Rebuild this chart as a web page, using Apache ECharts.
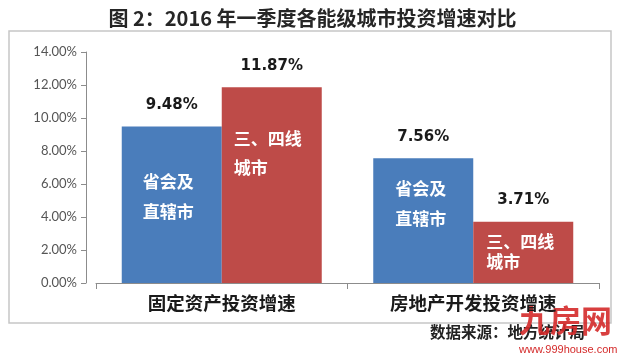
<!DOCTYPE html>
<html>
<head>
<meta charset="utf-8">
<script src="https://cdn.jsdelivr.net/npm/echarts@6/dist/echarts.min.js"></script>
<style>
html,body{margin:0;padding:0;background:#fff;}
#c{width:625px;height:361px;}
</style>
</head>
<body>
<div id="c"></div>
<script>
const titleText = '图 2：2016 年一季度各能级城市投资增速对比';
const categories = ['固定资产投资增速', '房地产开发投资增速'];
const seriesNames = ['省会及直辖市', '三、四线城市'];
const provincialValues = [9.48, 7.56];
const tier34Values = [11.87, 3.71];
const innerLabels = ['省会及\n直辖市', '三、四线\n城市'];
const yTicks = [0, 2, 4, 6, 8, 10, 12, 14];
const sourceText = '数据来源：地方统计局';

const blue = '#4a7dbb';
const red = '#be4b48';
const yMin = yTicks[0], yMax = yTicks[yTicks.length - 1], yStep = yTicks[1] - yTicks[0];

// label placement inside each bar (style only)
const blueLabelPos = [[21, 40, 30], [22, 15, 30]];
const redLabelPos = [[12, 37, 29], [13, 10, 20]];

const innerStyle = {
  show: true, color: '#fff', fontWeight: 'bold', fontSize: 17,
  fontFamily: 'Noto Sans CJK SC', align: 'left', verticalAlign: 'top'
};

const chart = echarts.init(document.getElementById('c'), null, {renderer: 'canvas'});
chart.setOption({
  animation: false,
  backgroundColor: '#fff',
  title: {
    text: titleText, left: 'center', top: 3,
    textStyle: {fontSize: 20, fontWeight: 'bold', color: '#262626', fontFamily: 'Noto Sans CJK SC'}
  },
  graphic: [
    {type: 'rect', shape: {x: 9, y: 31, width: 602, height: 292},
     style: {fill: 'none', stroke: '#c6c6c6', lineWidth: 1.5}, z: -1},
    {type: 'text', left: 430, top: 324,
     style: {text: sourceText, fontSize: 15.5, fontWeight: 'bold', fill: '#222', fontFamily: 'Noto Sans CJK SC'}},
    {type: 'text', left: 519, top: 305,
     style: {text: '九房网', fontSize: 31, fontWeight: 'bold', fill: '#d42a2a', fontFamily: 'Noto Sans CJK SC', opacity: 0.9}},
    {type: 'text', left: 519, top: 344,
     style: {text: 'www.999house.com', fontSize: 11, fill: '#d42a2a', fontFamily: 'Liberation Sans'}}
  ],
  grid: {left: 96, right: 26, top: 52, bottom: 78, containLabel: false},
  xAxis: [
    {
      type: 'category', data: categories,
      axisLine: {lineStyle: {color: '#8c8c8c', width: 1}},
      axisTick: {show: true, length: 6, lineStyle: {color: '#8c8c8c'}},
      axisLabel: {color: '#1a1a1a', fontSize: 18.5, fontWeight: 'bold', fontFamily: 'Noto Sans CJK SC', margin: 11}
    },
    {type: 'category', data: categories, show: false}
  ],
  yAxis: {
    type: 'value', min: yMin, max: yMax, interval: yStep, offset: 10,
    axisLine: {show: true, lineStyle: {color: '#8c8c8c'}},
    axisTick: {show: true, length: 5, lineStyle: {color: '#8c8c8c'}},
    splitLine: {show: false},
    axisLabel: {
      color: '#555', fontSize: 13, fontFamily: 'Lato', margin: 9,
      formatter: v => v.toFixed(2) + '%'
    }
  },
  series: [
    {
      name: seriesNames[0], type: 'bar', xAxisIndex: 0, barWidth: 100, barGap: '0%',
      itemStyle: {color: blue},
      data: provincialValues.map((v, i) => ({
        value: v,
        label: Object.assign({}, innerStyle, {
          formatter: innerLabels[0],
          position: [blueLabelPos[i][0], blueLabelPos[i][1]],
          lineHeight: blueLabelPos[i][2]
        })
      }))
    },
    {
      name: seriesNames[1], type: 'bar', xAxisIndex: 0, barWidth: 100, barGap: '0%',
      itemStyle: {color: red},
      data: tier34Values.map((v, i) => ({
        value: v,
        label: Object.assign({}, innerStyle, {
          formatter: innerLabels[1],
          position: [redLabelPos[i][0], redLabelPos[i][1]],
          lineHeight: redLabelPos[i][2]
        })
      }))
    },
    {
      type: 'bar', xAxisIndex: 1, barWidth: 100, barGap: '0%', silent: true,
      itemStyle: {color: 'rgba(0,0,0,0)'},
      label: {show: true, position: 'top', distance: 14, color: '#1a1a1a', fontSize: 15, fontWeight: 'bold',
              fontFamily: 'DejaVu Sans', formatter: p => p.value.toFixed(2) + '%'},
      data: provincialValues
    },
    {
      type: 'bar', xAxisIndex: 1, barWidth: 100, barGap: '0%', silent: true,
      itemStyle: {color: 'rgba(0,0,0,0)'},
      label: {show: true, position: 'top', distance: 14, color: '#1a1a1a', fontSize: 15, fontWeight: 'bold',
              fontFamily: 'DejaVu Sans', formatter: p => p.value.toFixed(2) + '%'},
      data: tier34Values
    }
  ]
});
</script>
</body>
</html>
